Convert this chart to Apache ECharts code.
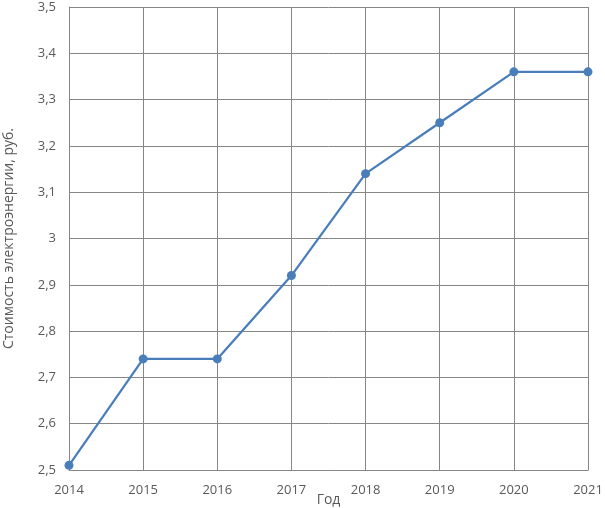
<!DOCTYPE html>
<html>
<head>
<meta charset="utf-8">
<script src="https://cdn.jsdelivr.net/npm/echarts@6/dist/echarts.min.js"></script>
<style>
  html, body { margin: 0; padding: 0; background: #fff; }
  #chart { width: 605px; height: 508px; }
</style>
</head>
<body>
<div id="chart"></div>
<script>
const years = ['2014', '2015', '2016', '2017', '2018', '2019', '2020', '2021'];
const cost = [2.51, 2.74, 2.74, 2.92, 3.14, 3.25, 3.36, 3.36];

const font = '"Open Sans", "Noto Sans", sans-serif';
const chart = echarts.init(document.getElementById('chart'));
chart.setOption({
  animation: false,
  grid: { left: 69, right: 17, top: 7, bottom: 38, outerBoundsMode: 'none', containLabel: false },
  xAxis: {
    type: 'category',
    data: years,
    boundaryGap: false,
    name: 'Год',
    nameLocation: 'middle',
    nameGap: 23,
    nameMoveOverlap: false,
    nameTextStyle: { color: '#595959', fontSize: 14, fontFamily: font },
    axisLine: { lineStyle: { color: '#868686', width: 1 } },
    axisTick: { show: false },
    axisLabel: { color: '#595959', fontSize: 13, fontFamily: font, margin: 14 },
    splitLine: { show: true, lineStyle: { color: '#868686', width: 1 } }
  },
  yAxis: {
    type: 'value',
    min: 2.5,
    max: 3.5,
    interval: 0.1,
    name: 'Стоимость электроэнергии, руб.',
    nameLocation: 'middle',
    nameGap: 53,
    nameRotate: 90,
    nameMoveOverlap: false,
    nameTextStyle: { color: '#595959', fontSize: 14, fontFamily: font },
    axisLine: { show: true, lineStyle: { color: '#868686', width: 1 } },
    axisTick: { show: false },
    axisLabel: {
      color: '#595959', fontSize: 13, fontFamily: font, margin: 13,
      formatter: v => String(Math.round(v * 10) / 10).replace('.', ',')
    },
    splitLine: { show: true, lineStyle: { color: '#868686', width: 1 } }
  },
  series: [{
    type: 'line',
    data: cost,
    symbol: 'circle',
    symbolSize: 9,
    lineStyle: { color: '#4a7ebb', width: 2.25 },
    itemStyle: { color: '#4a7ebb' }
  }]
});
</script>
</body>
</html>
